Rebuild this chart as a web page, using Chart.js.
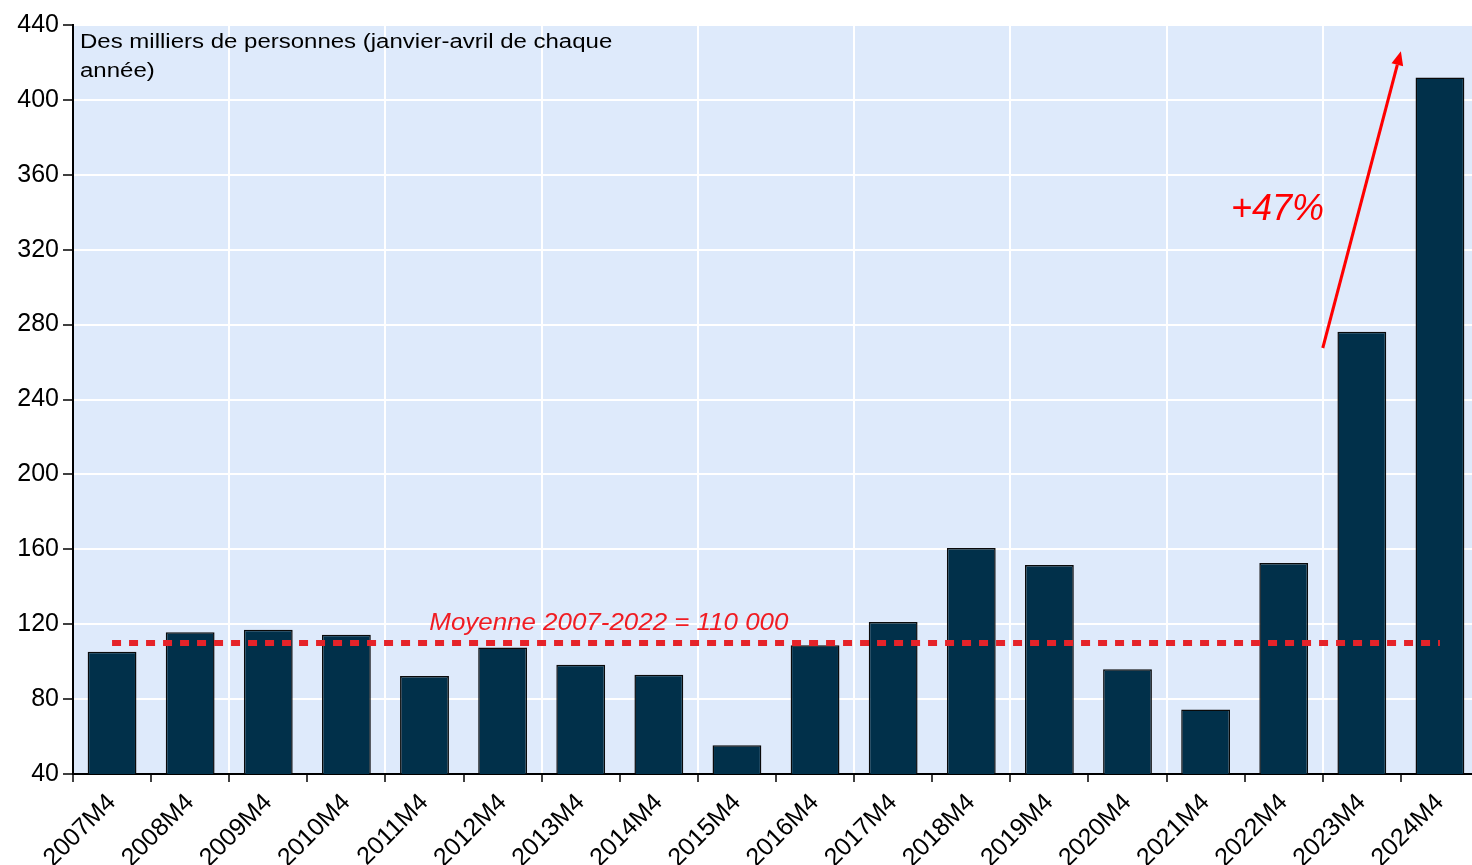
<!DOCTYPE html>
<html>
<head>
<meta charset="utf-8">
<script src="https://cdn.jsdelivr.net/npm/chart.js@4.4.1/dist/chart.umd.min.js"></script>
<style>
  html, body { margin: 0; padding: 0; background: #ffffff; overflow: hidden; }
  #wrap { position: absolute; left: 0; top: 0; width: 1480px; height: 865px; }
</style>
</head>
<body>
<div id="wrap"><canvas id="c"></canvas></div>
<script>
// ---- Data ----
const categories = ['2007M4','2008M4','2009M4','2010M4','2011M4','2012M4','2013M4','2014M4','2015M4',
                    '2016M4','2017M4','2018M4','2019M4','2020M4','2021M4','2022M4','2023M4','2024M4'];
const values = [105.3, 115.7, 117.1, 114.4, 92.3, 107.5, 98.4, 93.0, 55.3,
                108.7, 121.2, 160.7, 151.6, 96.0, 74.5, 152.7, 276.2, 412.0];
const meanLine = [110, 110, 110, 110, 110, 110, 110, 110, 110,
                  110, 110, 110, 110, 110, 110, 110, 110, 110];
const yTicks = [40, 80, 120, 160, 200, 240, 280, 320, 360, 400, 440];
const titleLines = ['Des milliers de personnes (janvier-avril de chaque', 'année)'];
const meanLabel = 'Moyenne 2007-2022 = 110 000';
const meanLabelPos = { x: 6.36, y: 120.5 };
const growthLabel = '+47%';
const growthLabelPos = { x: 14.92, y: 341 };
const arrowFrom = { x: 15.5, y: 267.5 };
const arrowTo = { x: 16.5, y: 426 };

const FONT = '"Liberation Sans", Arial, sans-serif';

function stretchedText(ctx, text, x, y, font, color, sx, align, baseline) {
  ctx.save();
  ctx.font = font;
  ctx.fillStyle = color;
  ctx.textAlign = align;
  ctx.textBaseline = baseline;
  ctx.translate(x, y);
  ctx.scale(sx, 1);
  ctx.fillText(text, 0, 0);
  ctx.restore();
}

const plotBg = {
  id: 'plotBg',
  beforeDraw(chart) {
    const { ctx, chartArea: a } = chart;
    ctx.save();
    ctx.fillStyle = '#DEEAFB';
    ctx.fillRect(a.left, a.top, a.right - a.left, a.bottom - a.top);
    ctx.restore();
  }
};

const annotations = {
  id: 'annotations',
  afterDatasetsDraw(chart) {
    const { ctx, chartArea: a, scales: { x, y } } = chart;
    // title inside plot
    stretchedText(ctx, titleLines[0], a.left + 7, a.top + 23, '20px ' + FONT, '#000', 1.2, 'left', 'alphabetic');
    stretchedText(ctx, titleLines[1], a.left + 7, a.top + 52, '20px ' + FONT, '#000', 1.2, 'left', 'alphabetic');
    // mean label
    stretchedText(ctx, meanLabel, x.getPixelForValue(meanLabelPos.x), y.getPixelForValue(meanLabelPos.y),
                  'italic 24px ' + FONT, '#F01D23', 1.08, 'center', 'middle');
    // growth label
    stretchedText(ctx, growthLabel, x.getPixelForValue(growthLabelPos.x), y.getPixelForValue(growthLabelPos.y),
                  'italic 36px ' + FONT, '#FF0000', 1.0, 'center', 'middle');
    // arrow
    const x1 = x.getPixelForValue(arrowFrom.x), y1 = y.getPixelForValue(arrowFrom.y);
    const x2 = x.getPixelForValue(arrowTo.x), y2 = y.getPixelForValue(arrowTo.y);
    const ang = Math.atan2(y2 - y1, x2 - x1);
    const headLen = 14, headW = 6;
    const bx = x2 - headLen * Math.cos(ang), by = y2 - headLen * Math.sin(ang);
    ctx.save();
    ctx.strokeStyle = '#FF0000';
    ctx.fillStyle = '#FF0000';
    ctx.lineWidth = 3;
    ctx.beginPath();
    ctx.moveTo(x1, y1);
    ctx.lineTo(bx, by);
    ctx.stroke();
    ctx.beginPath();
    ctx.moveTo(x2, y2);
    ctx.lineTo(bx + headW * Math.sin(ang), by - headW * Math.cos(ang));
    ctx.lineTo(bx - headW * Math.sin(ang), by + headW * Math.cos(ang));
    ctx.closePath();
    ctx.fill();
    ctx.restore();
  }
};

new Chart(document.getElementById('c'), {
  data: {
    labels: categories,
    datasets: [
      {
        type: 'line',
        data: meanLine,
        borderColor: '#E52329',
        borderWidth: 6,
        borderDash: [9, 8],
        borderCapStyle: 'butt',
        pointRadius: 0,
        fill: false,
        order: 0
      },
      {
        type: 'bar',
        data: values,
        backgroundColor: '#01304A',
        borderColor: '#0a0a0a',
        borderWidth: 1.5,
        barPercentage: 0.625,
        categoryPercentage: 1.0,
        order: 1
      }
    ]
  },
  options: {
    responsive: true,
    maintainAspectRatio: false,
    animation: false,
    layout: { padding: { top: 25, right: 1, left: 0, bottom: 0 } },
    plugins: { legend: { display: false }, tooltip: { enabled: false } },
    scales: {
      x: {
        offset: true,
        border: { display: true, color: '#000', width: 2 },
        grid: {
          offset: true,
          lineWidth: 2,
          color: (c) => (c.index !== undefined && c.index > 0 && c.index % 2 === 0) ? '#ffffff' : 'rgba(0,0,0,0)',
          tickColor: '#000',
          tickWidth: 1.5,
          tickLength: 8,
          drawOnChartArea: true
        },
        ticks: {
          autoSkip: false,
          minRotation: 45,
          maxRotation: 45,
          padding: 6,
          color: '#000',
          font: { family: FONT, size: 25 }
        },
        afterFit(s) { s.height = 91; }
      },
      y: {
        min: 40,
        max: 440,
        border: { display: true, color: '#000', width: 2 },
        grid: {
          lineWidth: 2,
          color: '#ffffff',
          tickColor: '#000',
          tickWidth: 1.5,
          tickLength: 10
        },
        afterBuildTicks(s) { s.ticks = yTicks.map(v => ({ value: v })); },
        ticks: {
          padding: 4,
          color: '#000',
          font: { family: FONT, size: 25 }
        },
        afterFit(s) { s.width = 73; }
      }
    }
  },
  plugins: [plotBg, annotations]
});
</script>
</body>
</html>
